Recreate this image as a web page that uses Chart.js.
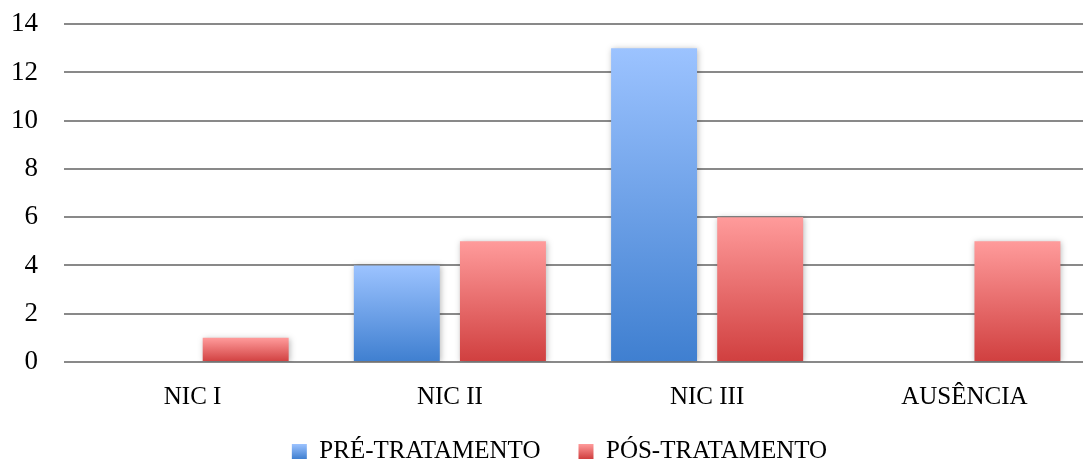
<!DOCTYPE html>
<html>
<head>
<meta charset="utf-8">
<script src="https://cdn.jsdelivr.net/npm/chart.js@4/dist/chart.umd.min.js"></script>
<style>
  html, body { margin: 0; padding: 0; background: #fff; overflow: hidden; }
  #wrap { width: 1093px; height: 502px; margin-top: -18px; }
</style>
</head>
<body>
<div id="wrap"><canvas id="nicChart"></canvas></div>
<script>
// Chart data
const categories = ["NIC I", "NIC II", "NIC III", "AUSÊNCIA"];
const preTratamento = [0, 4, 13, 0];
const posTratamento = [1, 5, 6, 5];
const seriesLabels = ["PRÉ-TRATAMENTO", "PÓS-TRATAMENTO"];
const yTicks = [0, 2, 4, 6, 8, 10, 12, 14];

const FONT = "'Liberation Serif', 'Times New Roman', serif";

const blueTop = "#9cc3ff", blueBottom = "#3f7fd0";
const redTop = "#ff9b9b", redBottom = "#d03f3f";

// Vertical gradient spanning each bar, light at the top, dark at the base
const barGradient = (top, bottom) => (context) => {
  const chart = context.chart;
  const yScale = chart.scales.y;
  if (!yScale || context.type !== "data") return bottom;
  const value = context.raw || 0;
  const y0 = yScale.getPixelForValue(0);
  const y1 = yScale.getPixelForValue(value);
  if (y0 === y1 || !isFinite(y0) || !isFinite(y1)) return bottom;
  const g = chart.ctx.createLinearGradient(0, y1, 0, y0);
  g.addColorStop(0, top);
  g.addColorStop(1, bottom);
  return g;
};

// Soft drop shadow under the bars
const barShadow = {
  id: "barShadow",
  beforeDatasetsDraw(chart) {
    const ctx = chart.ctx;
    ctx.save();
    ctx.shadowColor = "rgba(0, 0, 0, 0.28)";
    ctx.shadowBlur = 6;
    ctx.shadowOffsetX = 1;
    ctx.shadowOffsetY = 1;
  },
  afterDatasetsDraw(chart) {
    chart.ctx.restore();
  },
};

// Move the legend into place and give its boxes the bar gradients
const legendShift = {
  id: "legendShift",
  afterLayout(chart) {
    const lg = chart.legend;
    if (!lg) return;
    lg.left += 13;
    lg.right += 13;
    lg.top -= 10;
    lg.bottom -= 10;
  },
  beforeDraw(chart) {
    const lg = chart.legend;
    if (!lg || !lg.legendItems) return;
    const opts = lg.options.labels;
    const itemHeight = Math.max(opts.font.size, opts.boxHeight);
    const boxTop = lg.top + opts.padding + (itemHeight - opts.boxHeight) / 2;
    const stops = [[blueTop, blueBottom], [redTop, redBottom]];
    lg.legendItems.forEach((item, i) => {
      const g = chart.ctx.createLinearGradient(0, boxTop, 0, boxTop + opts.boxHeight);
      g.addColorStop(0, stops[i][0]);
      g.addColorStop(1, stops[i][1]);
      item.fillStyle = g;
    });
  },
};

new Chart(document.getElementById("nicChart").getContext("2d"), {
  type: "bar",
  data: {
    labels: categories,
    datasets: [
      {
        label: seriesLabels[0],
        data: preTratamento,
        backgroundColor: barGradient(blueTop, blueBottom),
        categoryPercentage: 0.825,
        barPercentage: 0.81,
      },
      {
        label: seriesLabels[1],
        data: posTratamento,
        backgroundColor: barGradient(redTop, redBottom),
        categoryPercentage: 0.825,
        barPercentage: 0.81,
      },
    ],
  },
  options: {
    responsive: true,
    maintainAspectRatio: false,
    animation: false,
    layout: { padding: 0 },
    plugins: {
      title: { display: false },
      tooltip: { enabled: false },
      legend: {
        position: "bottom",
        labels: {
          font: { family: FONT, size: 25 },
          color: "#000",
          boxWidth: 15,
          boxHeight: 15,
          padding: 38,
          generateLabels: () => seriesLabels.map((text, i) => ({
            text,
            fillStyle: i === 0 ? blueBottom : redBottom,
            strokeStyle: "transparent",
            lineWidth: 0,
            datasetIndex: i,
          })),
        },
      },
    },
    scales: {
      x: {
        grid: { display: false, drawTicks: false },
        border: { display: false },
        ticks: { font: { family: FONT, size: 25 }, color: "#000", padding: 20 },
        afterFit: (scale) => { scale.height = 49; },
      },
      y: {
        min: 0,
        max: 14,
        grid: { color: "#898989", lineWidth: 2, drawTicks: false },
        border: { display: false },
        afterBuildTicks: (scale) => { scale.ticks = yTicks.map((v) => ({ value: v })); },
        ticks: { font: { family: FONT, size: 27 }, color: "#000", padding: 26 },
        afterFit: (scale) => { scale.width = 64; },
      },
    },
  },
  plugins: [barShadow, legendShift],
});
</script>
</body>
</html>
